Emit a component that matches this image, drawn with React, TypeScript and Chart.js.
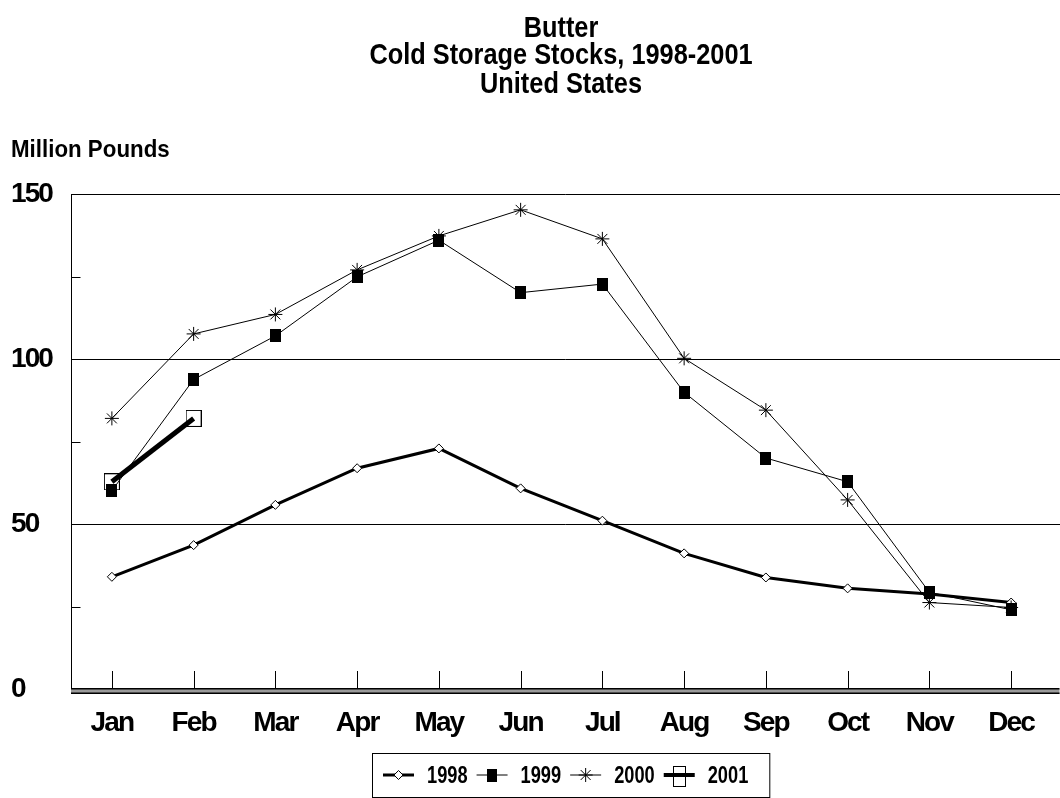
import React, { useEffect, useRef } from "react";
import { Chart, registerables } from "chart.js";
import { drawPoint } from "chart.js/helpers";

Chart.register(...registerables);

const months = ["Jan", "Feb", "Mar", "Apr", "May", "Jun", "Jul", "Aug", "Sep", "Oct", "Nov", "Dec"];
const stocks1998 = [34.0, 43.6, 55.8, 66.9, 72.9, 60.8, 51.0, 41.1, 33.8, 30.5, 28.8, 26.2];
const stocks1999 = [60.1, 93.8, 107.0, 124.9, 136.0, 120.1, 122.7, 89.9, 70.0, 62.8, 29.3, 24.0];
const stocks2000 = [82.0, 107.6, 113.5, 127.0, 137.3, 145.2, 136.4, 100.2, 84.5, 57.3, 26.2, 24.7];
const stocks2001 = [62.8, 82.0, null, null, null, null, null, null, null, null, null, null];
const seriesNames = ["1998", "1999", "2000", "2001"];
const yMajorTicks = [0, 50, 100, 150];
const yMinorTicks = [25, 75, 125];
const titleLines = ["Butter", "Cold Storage Stocks, 1998-2001", "United States"];
const yAxisTitle = "Million Pounds";

const FONT = "'Liberation Sans', Arial, Helvetica, sans-serif";

function makeMarker(w: number, h: number, filled: boolean): HTMLCanvasElement {
  const c = document.createElement("canvas");
  c.width = w;
  c.height = h;
  const g = c.getContext("2d")!;
  if (filled) {
    g.fillStyle = "#000";
    g.fillRect(0, 0, w, h);
  } else {
    g.strokeStyle = "#000";
    g.lineWidth = 1;
    g.strokeRect(0.5, 0.5, w - 1, h - 1);
  }
  return c;
}

function condensedText(ctx: CanvasRenderingContext2D, text: string, x: number, y: number, sx: number, align: CanvasTextAlign) {
  ctx.save();
  ctx.translate(x, y);
  ctx.scale(sx, 1);
  ctx.textAlign = align;
  ctx.fillText(text, 0, 0);
  ctx.restore();
}

export default function App() {
  const ref = useRef<HTMLCanvasElement | null>(null);

  useEffect(() => {
    const canvas = ref.current;
    if (!canvas) return;
    const filledSquare = makeMarker(11, 13, true);
    const openSquare = makeMarker(16, 17, false);

    const styles = [
      { lineWidth: 3, point: { pointStyle: "rectRot", radius: 4.5, bg: "#fff", bw: 1 } },
      { lineWidth: 1, point: { pointStyle: filledSquare, radius: 6, bg: "#000", bw: 0 } },
      { lineWidth: 1, point: { pointStyle: "star", radius: 7, bg: "#000", bw: 1 } },
      { lineWidth: 5, point: { pointStyle: openSquare, radius: 8, bg: "rgba(0,0,0,0)", bw: 0 } },
    ];
    const drawOrder = [4, 2, 3, 1];
    const values = [stocks1998, stocks1999, stocks2000, stocks2001];

    const framePlugin = {
      id: "frame",
      beforeDraw(chart: any) {
        chart.ctx.letterSpacing = "-1.9px";
      },
      beforeDatasetsDraw(chart: any) {
        const { ctx, chartArea } = chart;
        const ys = chart.scales.y;
        const xs = chart.scales.x;
        const L = Math.round(chartArea.left) + 0.5;
        const R = chart.width;
        ctx.save();
        ctx.strokeStyle = "#000";
        ctx.lineWidth = 1;
        ctx.beginPath();
        for (const v of yMajorTicks) {
          if (v === 0) continue;
          const y = Math.round(ys.getPixelForValue(v)) + 0.5;
          ctx.moveTo(L, y);
          ctx.lineTo(R, y);
        }
        ctx.stroke();
        const top = Math.round(ys.getPixelForValue(150));
        const bot = Math.round(ys.getPixelForValue(0));
        ctx.beginPath();
        ctx.moveTo(L, top);
        ctx.lineTo(L, bot);
        ctx.stroke();
        ctx.beginPath();
        for (const v of yMinorTicks) {
          const y = Math.round(ys.getPixelForValue(v)) + 0.5;
          ctx.moveTo(L, y);
          ctx.lineTo(L + 9, y);
        }
        ctx.stroke();
        ctx.beginPath();
        months.forEach((_, i) => {
          const x = Math.round(xs.getPixelForValue(i)) + 0.5;
          ctx.moveTo(x, bot - 18);
          ctx.lineTo(x, bot);
        });
        ctx.stroke();
        ctx.fillStyle = "#9a9a9a";
        ctx.fillRect(L - 0.5, bot, R - L, 5);
        ctx.fillStyle = "#000";
        ctx.fillRect(L - 0.5, bot - 1, R - L, 1.5);
        ctx.fillRect(L - 0.5, bot + 3.5, R - L, 1.5);
        ctx.restore();
      },
      afterDraw(chart: any) {
        const { ctx } = chart;
        ctx.save();
        ctx.fillStyle = "#000";
        ctx.letterSpacing = "0px";
        ctx.textBaseline = "alphabetic";
        ctx.font = `bold 30px ${FONT}`;
        const baselines = [37, 64, 93];
        titleLines.forEach((t, i) => condensedText(ctx, t, 561, baselines[i], 0.845, "center"));
        ctx.font = `bold 24px ${FONT}`;
        condensedText(ctx, yAxisTitle, 11, 157, 0.93, "left");
        ctx.font = `bold 24px ${FONT}`;
        const sx = 0.76;
        const ly = 775;
        let x = 383;
        const startX = x;
        let endX = x;
        seriesNames.forEach((name, i) => {
          const st = styles[i];
          ctx.strokeStyle = "#000";
          ctx.lineWidth = i === 3 ? 4 : st.lineWidth;
          ctx.beginPath();
          ctx.moveTo(x, ly);
          ctx.lineTo(x + 31, ly);
          ctx.stroke();
          const cx = x + 15.5;
          const ps: any = st.point.pointStyle;
          if (typeof ps === "string") {
            ctx.fillStyle = st.point.bg;
            ctx.lineWidth = 1;
            drawPoint(ctx, { pointStyle: ps, radius: ps === "star" ? 7 : 4.5, borderWidth: 1, rotation: 0 } as any, cx, ly);
          } else if (ps === openSquare) {
            ctx.lineWidth = 1;
            ctx.strokeRect(Math.round(cx - 6) + 0.5, Math.round(ly - 9) + 0.5, 12, 20);
          } else {
            ctx.fillStyle = "#000";
            ctx.fillRect(Math.round(cx - 5), Math.round(ly - 6), 10, 13);
          }
          ctx.fillStyle = "#000";
          const tx = x + 44;
          ctx.textBaseline = "middle";
          condensedText(ctx, name, tx, ly + 1, sx, "left");
          const tw = ctx.measureText(name).width * sx;
          endX = tx + tw;
          x = tx + tw + 9;
        });
        ctx.lineWidth = 1;
        ctx.strokeStyle = "#000";
        ctx.strokeRect(startX - 10.5, 753.5, endX - startX + 32, 44);
        ctx.restore();
      },
    };

    const chart = new Chart(canvas, {
      type: "line",
      data: {
        labels: months,
        datasets: seriesNames.map((name, i) => ({
          label: name,
          data: values[i] as any,
          order: drawOrder[i],
          borderColor: "#000",
          borderWidth: styles[i].lineWidth,
          backgroundColor: styles[i].point.bg,
          pointStyle: styles[i].point.pointStyle as any,
          pointRadius: styles[i].point.radius,
          pointBorderWidth: styles[i].point.bw,
          pointBorderColor: "#000",
          pointBackgroundColor: styles[i].point.bg,
          tension: 0,
          spanGaps: false,
          fill: false,
          clip: false as any,
        })),
      },
      options: {
        animation: false,
        responsive: false,
        devicePixelRatio: 1,
        events: [],
        layout: { padding: { left: 11, top: 194, right: 0, bottom: 49 } },
        plugins: {
          legend: { display: false },
          title: { display: false },
          tooltip: { enabled: false },
        },
        scales: {
          x: {
            type: "category",
            offset: true,
            grid: { display: false, drawTicks: false },
            border: { display: false },
            ticks: {
              color: "#000",
              font: { family: FONT, size: 28, weight: "bold" },
              padding: 17,
              autoSkip: false,
              maxRotation: 0,
              minRotation: 0,
            },
            afterFit: (s: any) => {
              s.height = 60;
            },
          },
          y: {
            min: 0,
            max: 150,
            grid: { display: false, drawTicks: false },
            border: { display: false },
            ticks: {
              stepSize: 50,
              color: "#000",
              font: { family: FONT, size: 28, weight: "bold" },
              crossAlign: "far",
              padding: 0,
            },
            afterFit: (s: any) => {
              s.width = 60;
            },
          },
        },
      },
      plugins: [framePlugin],
    });
    return () => chart.destroy();
  }, []);

  return (
    <div style={{ position: "fixed", left: 0, top: 0, width: 1060, height: 798, background: "#fff" }}>
      <canvas ref={ref} width={1060} height={798} style={{ display: "block", width: 1060, height: 798 }} />
    </div>
  );
}
